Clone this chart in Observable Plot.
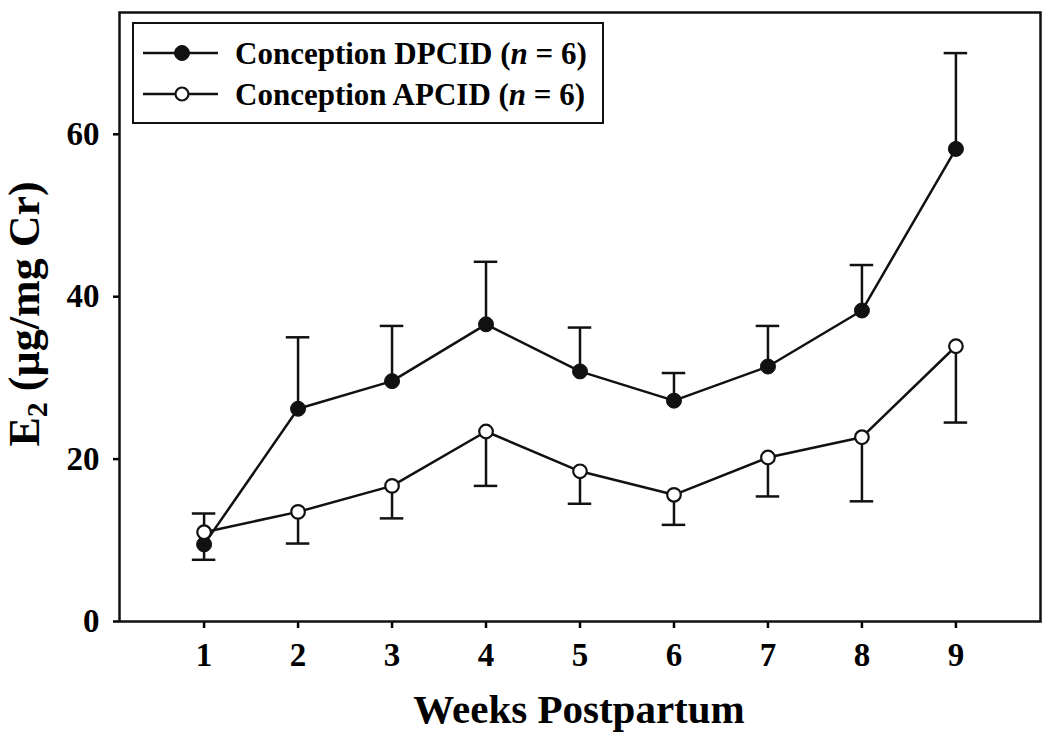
<!DOCTYPE html>
<html>
<head>
<meta charset="utf-8">
<script src="https://cdn.jsdelivr.net/npm/d3@7"></script>
<script src="https://cdn.jsdelivr.net/npm/@observablehq/plot@0.6"></script>
<style>
  html, body { margin: 0; padding: 0; background: #fff; }
  #chart svg { display: block; }
</style>
</head>
<body>
<div id="chart"></div>
<script>
// ---- Data ----
const weeks = [1, 2, 3, 4, 5, 6, 7, 8, 9];
const dpcidMean  = [9.5, 26.2, 29.6, 36.6, 30.8, 27.2, 31.4, 38.3, 58.2];
const dpcidUpper = [13.3, 35.0, 36.4, 44.3, 36.2, 30.6, 36.4, 43.9, 70.0];
const apcidMean  = [11.0, 13.5, 16.7, 23.4, 18.5, 15.6, 20.2, 22.7, 33.9];
const apcidLower = [7.6, 9.6, 12.7, 16.7, 14.5, 11.9, 15.4, 14.8, 24.5];
const yTicks = [0, 20, 40, 60];
const seriesNames = ["Conception DPCID", "Conception APCID"];
const nLabel = "6";
const xTitle = "Weeks Postpartum";

const dpcid = weeks.map((w, i) => ({week: w, mean: dpcidMean[i], err: dpcidUpper[i]}));
const apcid = weeks.map((w, i) => ({week: w, mean: apcidMean[i], err: apcidLower[i]}));
const capHalf = 0.125;

const chart = Plot.plot({
  width: 1050,
  height: 742,
  marginLeft: 119,
  marginRight: 10,
  marginTop: 12,
  marginBottom: 121,
  style: {fontFamily: "'Liberation Serif', 'Times New Roman', serif", fontWeight: "bold", fontSize: "33px", color: "black", background: "white"},
  x: {domain: [0.1, 9.9]},
  y: {domain: [0, 75]},
  marks: [
    Plot.axisX({ticks: weeks, tickSize: 7, tickPadding: 14, strokeWidth: 2.5, label: null, fontSize: 33, tickFormat: d => String(d)}),
    Plot.axisY({ticks: yTicks, tickSize: 6, tickPadding: 14, strokeWidth: 2.5, label: null, fontSize: 33}),
    // error bars
    Plot.ruleX(dpcid, {x: "week", y1: "mean", y2: "err", stroke: "#111", strokeWidth: 2.5}),
    Plot.ruleX(apcid, {x: "week", y1: "mean", y2: "err", stroke: "#111", strokeWidth: 2.5}),
    Plot.ruleY(dpcid, {y: "err", x1: d => d.week - capHalf, x2: d => d.week + capHalf, stroke: "#111", strokeWidth: 2.5}),
    Plot.ruleY(apcid, {y: "err", x1: d => d.week - capHalf, x2: d => d.week + capHalf, stroke: "#111", strokeWidth: 2.5}),
    // lines
    Plot.line(dpcid, {x: "week", y: "mean", stroke: "#111", strokeWidth: 2.5}),
    Plot.line(apcid, {x: "week", y: "mean", stroke: "#111", strokeWidth: 2.5}),
    // dots
    Plot.dot(dpcid, {x: "week", y: "mean", r: 7.5, fill: "#111", stroke: "#111", strokeWidth: 1}),
    Plot.dot(apcid, {x: "week", y: "mean", r: 6.8, fill: "white", stroke: "#111", strokeWidth: 2.2}),
    Plot.frame({stroke: "#111", strokeWidth: 2.5})
  ]
});

document.getElementById("chart").appendChild(chart);

// ---- Titles and legend, added to the SVG ----
const svg = d3.select(chart);
const serif = "'Liberation Serif', 'Times New Roman', serif";

// y-axis title with subscript
const yt = svg.append("text")
  .attr("transform", "translate(39,314) rotate(-90)")
  .attr("text-anchor", "middle")
  .attr("font-family", serif)
  .attr("font-weight", "bold")
  .attr("font-size", 44)
  .attr("fill", "black");
yt.append("tspan").text("E");
yt.append("tspan").attr("font-size", 30).attr("dy", 8).text("2");
yt.append("tspan").attr("dy", -8).text(" (µg/mg Cr)");

// x-axis title
svg.append("text")
  .attr("x", 579).attr("y", 723)
  .attr("text-anchor", "middle")
  .attr("font-family", serif)
  .attr("font-weight", "bold")
  .attr("font-size", 41)
  .attr("fill", "black")
  .text(xTitle);

// legend
const lg = svg.append("g");
lg.append("rect").attr("x", 133).attr("y", 23).attr("width", 470).attr("height", 100)
  .attr("fill", "white").attr("stroke", "#111").attr("stroke-width", 2);
const rows = [{y: 53, filled: true}, {y: 94, filled: false}];
rows.forEach((r, i) => {
  lg.append("line").attr("x1", 143).attr("x2", 218).attr("y1", r.y).attr("y2", r.y)
    .attr("stroke", "#111").attr("stroke-width", 2.5);
  lg.append("circle").attr("cx", 182).attr("cy", r.y)
    .attr("r", r.filled ? 7.5 : 6.5)
    .attr("fill", r.filled ? "#111" : "white")
    .attr("stroke", "#111").attr("stroke-width", r.filled ? 1 : 2.2);
  const t = lg.append("text").attr("x", 235).attr("y", r.y + 10.5)
    .attr("text-anchor", "start")
    .attr("font-family", serif).attr("font-weight", "bold").attr("font-size", 31).attr("fill", "black");
  t.append("tspan").text(seriesNames[i] + " (");
  t.append("tspan").attr("font-style", "italic").text("n");
  t.append("tspan").text(" = " + nLabel + ")");
});
</script>
</body>
</html>
